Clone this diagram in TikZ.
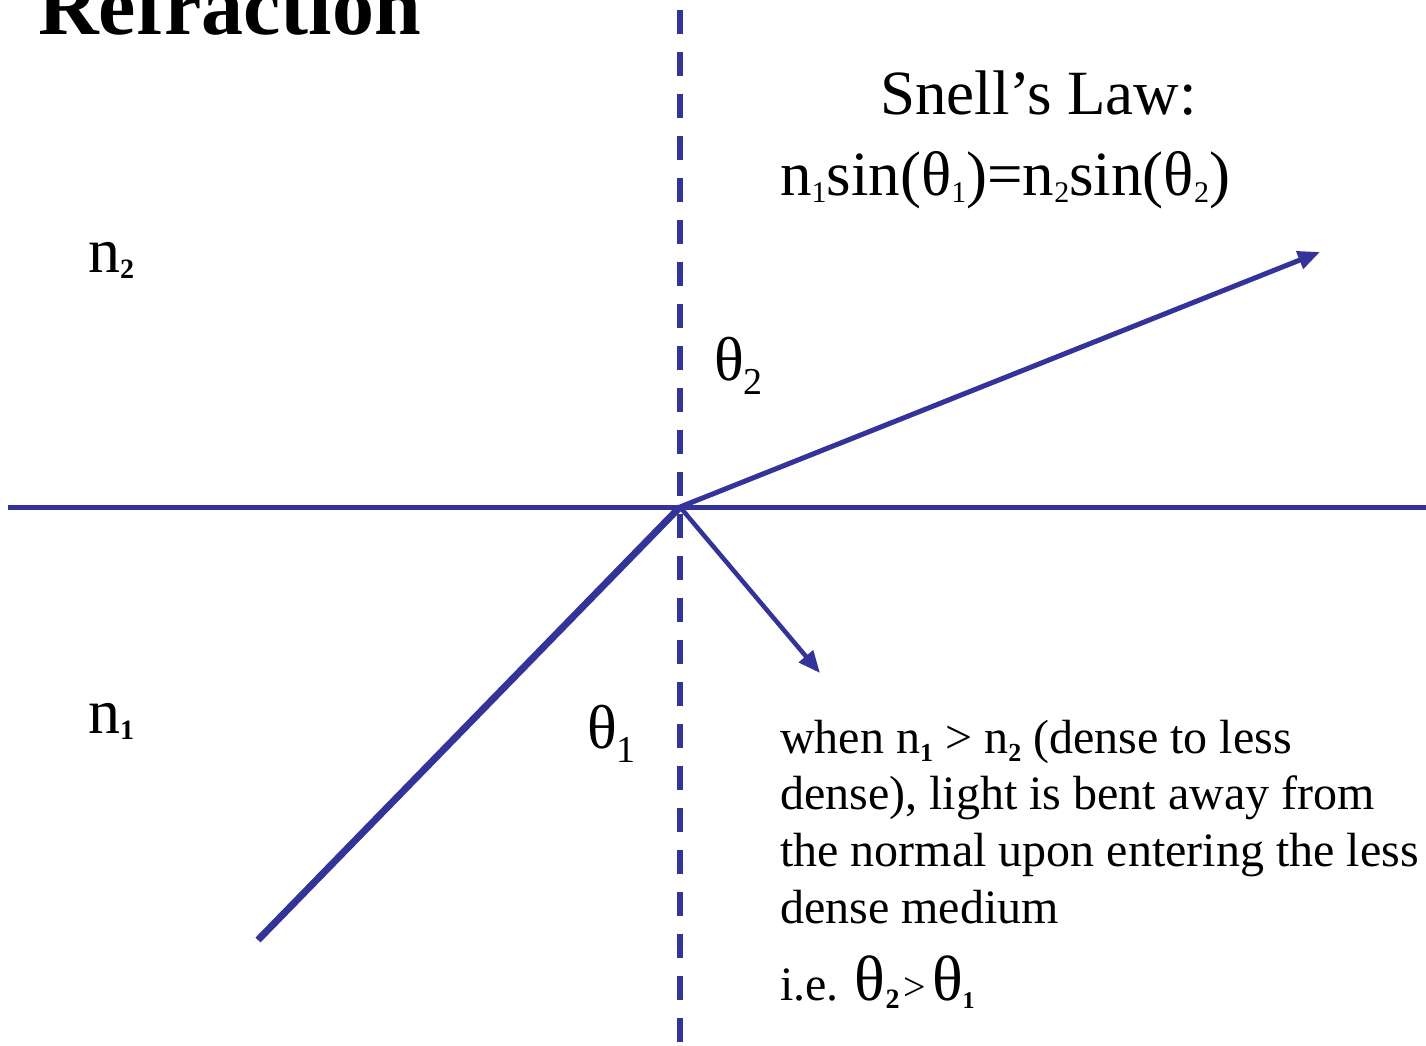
\documentclass[tikz,border=0pt]{standalone}
\usepackage{fontspec}
\setmainfont{Liberation Serif}
\usetikzlibrary{arrows.meta}
\definecolor{raycol}{RGB}{51,51,153}
\newcommand{\fsz}[1]{\fontsize{#1}{#1}\selectfont}
\newcommand{\lowsub}[3]{\raisebox{-#2pt}{\fsz{#1}#3}}
\begin{document}
\begin{tikzpicture}[x=1pt,y=-1pt,
  ray/.style={draw=raycol},
  tip/.style={-{Triangle[length=22pt,width=18pt]}},
  lbl/.style={anchor=base west,inner sep=0pt,text=black}]
\useasboundingbox (0,0) rectangle (1426,1046);
\coordinate (O) at (680,507);
\coordinate (L) at (8,507);
\coordinate (R) at (1426,507);
\coordinate (T) at (680,10);
\coordinate (B) at (680,1046);
\coordinate (inc) at (258,940);
\coordinate (refr) at (1320,252);
\coordinate (refl) at (820,673);
% normal
\draw[ray,line width=6pt,dash pattern=on 24pt off 18pt] (T) -- (B);
% interface
\draw[ray,line width=5pt] (L) -- (R);
% incident
\draw[ray,line width=7pt] (inc) -- (O);
% refracted
\draw[ray,line width=5pt,tip] (O) -- (refr);
% reflected
\draw[ray,line width=4.5pt,tip] (O) -- (refl);
% texts
\node[lbl] (title) at (38,35) {\fsz{84}\bfseries Refraction};
\node[lbl] (snell) at (880,115) {\fsz{63}Snell’s Law:};
\node[lbl] (formula) at (780,195) {\fsz{63}n\lowsub{30}{7}{1}sin(θ\lowsub{30}{7}{1})=n\lowsub{30}{7}{2}sin(θ\lowsub{30}{7}{2})};
\node[lbl] (n2) at (88,272) {\fsz{64}n\lowsub{28}{6}{\bfseries 2}};
\node[lbl] (n1) at (88,733) {\fsz{64}n\lowsub{28}{6}{\bfseries 1}};
\node[lbl] (th2) at (714,380) {\fsz{62}θ\lowsub{38}{14}{2}};
\node[lbl] (th1) at (587,748) {\fsz{62}θ\lowsub{38}{14}{1}};
\node[lbl] (t1) at (780,753) {\fsz{48}when n\lowsub{26}{8}{\bfseries 1} > n\lowsub{26}{8}{\bfseries 2} (dense to less};
\node[lbl] (t2) at (780,809) {\fsz{48}dense), light is bent away from};
\node[lbl] (t3) at (780,866) {\fsz{48}the normal upon entering the less};
\node[lbl] (t4) at (780,923) {\fsz{48}dense medium};
\node[lbl] (t5) at (780,1000) {\fsz{48}i.e. \fsz{64}θ\lowsub{28}{8}{\bfseries 2}\hspace{4pt}\fsz{40}>\hspace{6pt}\fsz{64}θ\lowsub{24}{8}{\bfseries 1}};
\end{tikzpicture}
\end{document}
